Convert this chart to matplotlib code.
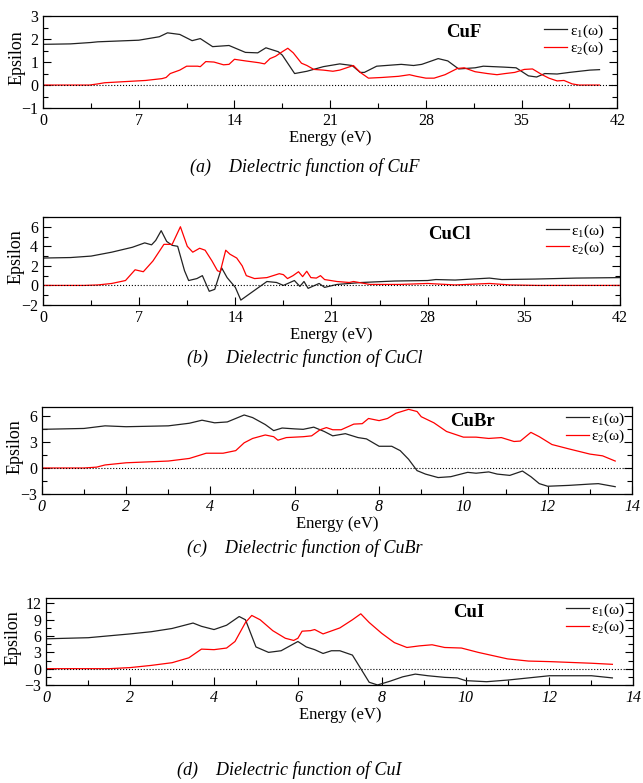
import matplotlib
matplotlib.use('Agg')
import matplotlib.pyplot as plt
import numpy as np
from matplotlib.ticker import MultipleLocator

# --- CuF ---
cuf_e1_x = [0, 2, 3.5, 4, 7, 8.5, 9.1, 10, 10.9, 11.5, 12.4, 13.6, 14.8, 15.7, 16.3, 17.2, 17.5,
            18.4, 19.3, 20.5, 21.7, 22.6, 23.2, 23.5, 24.4, 26.2, 27.1, 27.7, 28.9, 29.6, 30.4,
            31.6, 32.2, 33.7, 34.6, 35.5, 36.1, 36.7, 37.6, 38.5, 40, 40.7]
cuf_e1_y = [1.77, 1.79, 1.85, 1.88, 1.95, 2.1, 2.27, 2.2, 1.93, 2.02, 1.67, 1.72, 1.42, 1.4, 1.62, 1.45, 1.3,
            0.5, 0.6, 0.8, 0.92, 0.85, 0.55, 0.55, 0.82, 0.9, 0.85, 0.9, 1.15, 1.05, 0.7,
            0.75, 0.82, 0.78, 0.75, 0.4, 0.35, 0.5, 0.48, 0.55, 0.65, 0.67]
cuf_e2_x = [0, 3.4, 4, 4.5, 6, 7.5, 8.7, 9.0, 9.3, 10, 10.5, 11.3, 11.5, 11.9, 12.5, 13.2, 13.6, 14,
            14.8, 15.8, 16.2, 16.6, 17.0, 17.5, 17.9, 18.3, 18.9, 19.3, 19.8, 20.5, 21.2, 21.7,
            22.2, 22.7, 23.2, 23.8, 24.8, 26, 26.8, 27.3, 28, 28.6, 29.4, 30.3, 30.8, 31.6, 32.5,
            33.2, 33.8, 34.5, 35.2, 35.8, 36.5, 37, 37.6, 38.1, 38.7, 39.2, 40.7]
cuf_e2_y = [0, 0, 0.05, 0.1, 0.15, 0.2, 0.28, 0.33, 0.5, 0.65, 0.82, 0.82, 0.8, 1.02, 1.0, 0.88, 0.9, 1.12,
            1.05, 0.97, 0.92, 1.15, 1.25, 1.45, 1.6, 1.4, 0.95, 0.85, 0.68, 0.65, 0.6, 0.65,
            0.75, 0.85, 0.55, 0.3, 0.33, 0.38, 0.45, 0.38, 0.3, 0.3, 0.45, 0.72, 0.75, 0.58, 0.5,
            0.45, 0.5, 0.55, 0.68, 0.7, 0.45, 0.3, 0.18, 0.2, 0.05, 0, 0]

# --- CuCl ---
cucl_e1_x = [0, 2, 3.5, 5, 6.5, 7.4, 7.9, 8.2, 8.6, 9.0, 9.4, 9.8, 10.3, 10.6, 11.2, 11.6, 12.1, 12.5,
             13.0, 13.4, 14.0, 14.4, 15.0, 16.3, 17.0, 17.5, 18.3, 18.7, 19.0, 19.3, 20.1, 20.5,
             21.4, 23.2, 25.6, 28.0, 28.6, 30.0, 32.5, 33.4, 35.8, 38.8, 42]
cucl_e1_y = [2.8, 2.85, 3.0, 3.4, 3.9, 4.35, 4.15, 4.6, 5.6, 4.5, 4.1, 4.0, 1.5, 0.5, 0.7, 1.0, -0.6, -0.4,
             1.8, 0.8, -0.2, -1.5, -0.9, 0.4, 0.3, 0.0, 0.5, -0.1, 0.4, -0.3, 0.2, -0.2,
             0.1, 0.3, 0.45, 0.5, 0.6, 0.55, 0.75, 0.6, 0.65, 0.75, 0.8]
cucl_e2_x = [0, 3, 4, 5, 6, 6.7, 7.3, 8.0, 8.8, 9.4, 10.0, 10.5, 10.9, 11.4, 11.8, 12.3, 12.7, 12.9,
             13.3, 13.6, 14.1, 14.5, 14.8, 15.4, 16.3, 17.2, 17.5, 17.8, 18.2, 18.6, 18.9, 19.2,
             19.5, 19.9, 20.2, 20.5, 21.4, 22.3, 22.6, 23.8, 26.0, 28.0, 30.0, 32.5, 34.0, 36.0, 42]
cucl_e2_y = [0, 0, 0.05, 0.2, 0.5, 1.6, 1.4, 2.5, 4.2, 4.2, 6.0, 4.0, 3.4, 3.8, 3.6, 2.5, 1.5, 1.4,
             3.6, 3.2, 2.8, 2.0, 1.0, 0.7, 0.8, 1.2, 1.1, 0.7, 1.0, 1.4, 0.9, 1.45,
             0.8, 0.75, 1.0, 0.6, 0.4, 0.3, 0.4, 0.1, 0.1, 0.2, 0.05, 0.2, 0.05, 0, 0]

# --- CuBr ---
cubr_e1_x = [0, 1, 1.5, 2, 3, 3.5, 3.8, 4.1, 4.4, 4.8, 5.0, 5.3, 5.5, 5.7, 6.0, 6.2, 6.45, 6.7, 6.9,
             7.2, 7.5, 7.7, 8.0, 8.3, 8.5, 8.7, 8.9, 9.1, 9.4, 9.7, 10.1, 10.3, 10.6, 10.8, 11.1,
             11.4, 11.6, 11.8, 12.0, 12.5, 13.0, 13.2, 13.6]
cubr_e1_y = [4.45, 4.55, 4.85, 4.75, 4.85, 5.15, 5.5, 5.2, 5.3, 6.1, 5.8, 5.0, 4.3, 4.6, 4.5, 4.45, 4.7, 4.2, 3.7,
             3.95, 3.5, 3.35, 2.5, 2.5, 2.0, 1.0, -0.3, -0.7, -1.1, -1.0, -0.5, -0.6, -0.45, -0.7, -0.85,
             -0.35, -1.0, -1.8, -2.1, -2.0, -1.85, -1.8, -2.15]
cubr_e2_x = [0, 1, 1.3, 1.5, 2, 2.5, 3, 3.5, 3.9, 4.3, 4.6, 4.8, 5.0, 5.3, 5.5, 5.6, 5.8, 6.2, 6.4,
             6.6, 6.75, 6.9, 7.1, 7.4, 7.6, 7.75, 8.0, 8.2, 8.4, 8.7, 8.9, 9.0, 9.3, 9.6, 10.0,
             10.3, 10.6, 10.9, 11.2, 11.35, 11.6, 11.8, 12.1, 12.5, 13.0, 13.3, 13.6]
cubr_e2_y = [0, 0, 0.1, 0.35, 0.6, 0.7, 0.8, 1.1, 1.7, 1.7, 2.0, 2.9, 3.4, 3.8, 3.6, 3.2, 3.5, 3.6, 3.7,
             4.4, 4.65, 4.4, 4.4, 5.05, 5.1, 5.7, 5.45, 5.7, 6.3, 6.75, 6.5, 5.9, 5.2, 4.2, 3.55,
             3.55, 3.4, 3.5, 3.05, 3.1, 4.1, 3.6, 2.7, 2.2, 1.6, 1.4, 0.8]

# --- CuI ---
cui_e1_x = [0, 1, 2, 2.5, 3, 3.5, 3.7, 4.0, 4.3, 4.6, 4.75, 4.9, 5.0, 5.3, 5.6, 6.0, 6.2, 6.4, 6.6,
            6.8, 7.0, 7.3, 7.5, 7.7, 7.9, 8.2, 8.5, 8.8, 9.1, 9.5, 9.8, 10.0, 10.5, 11, 11.5, 12,
            13, 13.5]
cui_e1_y = [5.5, 5.7, 6.4, 6.8, 7.4, 8.4, 7.8, 7.2, 8.0, 9.6, 9.0, 6.0, 4.0, 3.0, 3.3, 5.0, 4.0, 3.5, 2.8,
            3.3, 3.3, 2.5, 0.0, -2.5, -3.0, -2.3, -1.5, -1.0, -1.3, -1.6, -1.7, -2.2, -2.4, -2.1, -1.7, -1.3,
            -1.3, -1.7]
cui_e2_x = [0, 1.5, 2, 2.5, 3, 3.4, 3.7, 4.0, 4.3, 4.5, 4.75, 4.9, 5.1, 5.4, 5.7, 5.9, 6.0, 6.1, 6.3,
            6.4, 6.6, 7.0, 7.3, 7.5, 7.7, 8.0, 8.3, 8.6, 8.9, 9.2, 9.5, 9.9, 10.3, 11, 11.5, 12,
            13, 13.5]
cui_e2_y = [0, 0, 0.2, 0.6, 1.1, 2.0, 3.6, 3.5, 3.8, 5.0, 8.5, 9.8, 9.0, 7.0, 5.6, 5.2, 5.6, 6.9, 7.0,
            7.2, 6.4, 7.5, 9.0, 10.1, 8.5, 6.5, 4.8, 3.9, 4.2, 4.4, 3.9, 3.8, 3.0, 1.8, 1.4, 1.3,
            1.0, 0.8]

plt.rcParams['font.family'] = ['Liberation Serif', 'DejaVu Serif']
plt.rcParams['mathtext.fontset'] = 'custom'
plt.rcParams['mathtext.rm'] = 'Liberation Serif'
plt.rcParams['mathtext.it'] = 'Liberation Serif:italic'

fig = plt.figure(figsize=(6.43, 7.83), dpi=100)


def panel(rect, x1, y1, x2, y2, xmax, xstep, ylim, ystep, name, name_xy, leg_xy, ylab_x, italic_x):
    ax = fig.add_axes(rect)
    ax.plot(x1, y1, color='#222222', lw=0.9, label='ε$_1$(ω)')
    ax.plot(x2, y2, color='#ff0000', lw=0.9, label='ε$_2$(ω)')
    ax.axhline(0, color='black', ls=':', lw=0.8)
    ax.set_xlim(0, xmax)
    ax.set_ylim(*ylim)
    ax.xaxis.set_major_locator(MultipleLocator(xstep))
    ax.xaxis.set_minor_locator(MultipleLocator(xstep / 2))
    ax.yaxis.set_major_locator(MultipleLocator(ystep))
    ax.yaxis.set_minor_locator(MultipleLocator(ystep / 2))
    ax.tick_params(which='both', direction='in', right=True, top=False, labelsize=11.5, width=0.8)
    ax.tick_params(which='major', length=6)
    ax.tick_params(which='minor', length=3.5)
    if italic_x:
        for t in ax.get_xticklabels():
            t.set_fontstyle('italic')
    ax.set_xlabel('Energy (eV)', fontsize=12, labelpad=1)
    ax.set_ylabel('Epsilon', fontsize=13)
    ax.yaxis.set_label_coords(ylab_x, 0.55)
    ax.text(name_xy[0], name_xy[1], name, transform=ax.transAxes, fontsize=13.5,
            fontweight='bold', ha='center', va='center')
    ax.legend(loc='upper right', bbox_to_anchor=leg_xy, frameon=False, fontsize=11,
              handlelength=1.5, handletextpad=0.15, labelspacing=0.0, borderpad=0,
              borderaxespad=0)
    for s in ax.spines.values():
        s.set_linewidth(0.9)
    return ax


panel([0.067, 0.862, 0.893, 0.1175], cuf_e1_x, cuf_e1_y, cuf_e2_x, cuf_e2_y,
      42, 7, (-1, 3), 1, 'CuF', (0.733, 0.82), (0.976, 0.93), -0.03, False)
panel([0.067, 0.6105, 0.897, 0.1124], cucl_e1_x, cucl_e1_y, cucl_e2_x, cucl_e2_y,
      42, 7, (-2, 7), 2, 'CuCl', (0.705, 0.80), (0.974, 0.94), -0.033, False)
panel([0.065, 0.369, 0.918, 0.111], cubr_e1_x, cubr_e1_y, cubr_e2_x, cubr_e2_y,
      14, 2, (-3, 7), 3, 'CuBr', (0.73, 0.84), (0.988, 0.96), -0.031, True)
panel([0.072, 0.1252, 0.913, 0.111], cui_e1_x, cui_e1_y, cui_e2_x, cui_e2_y,
      14, 2, (-3, 13), 3, 'CuI', (0.72, 0.83), (0.986, 0.96), -0.043, True)

cap_kw = dict(fontsize=13, fontstyle='italic', ha='left', va='center')
fig.text(190 / 643, 1 - 167 / 783, '(a)    Dielectric function of CuF', **cap_kw)
fig.text(187 / 643, 1 - 358 / 783, '(b)    Dielectric function of CuCl', **cap_kw)
fig.text(187 / 643, 1 - 548 / 783, '(c)    Dielectric function of CuBr', **cap_kw)
fig.text(177 / 643, 1 - 770 / 783, '(d)    Dielectric function of CuI', **cap_kw)

plt.savefig('out.png', dpi=100)
